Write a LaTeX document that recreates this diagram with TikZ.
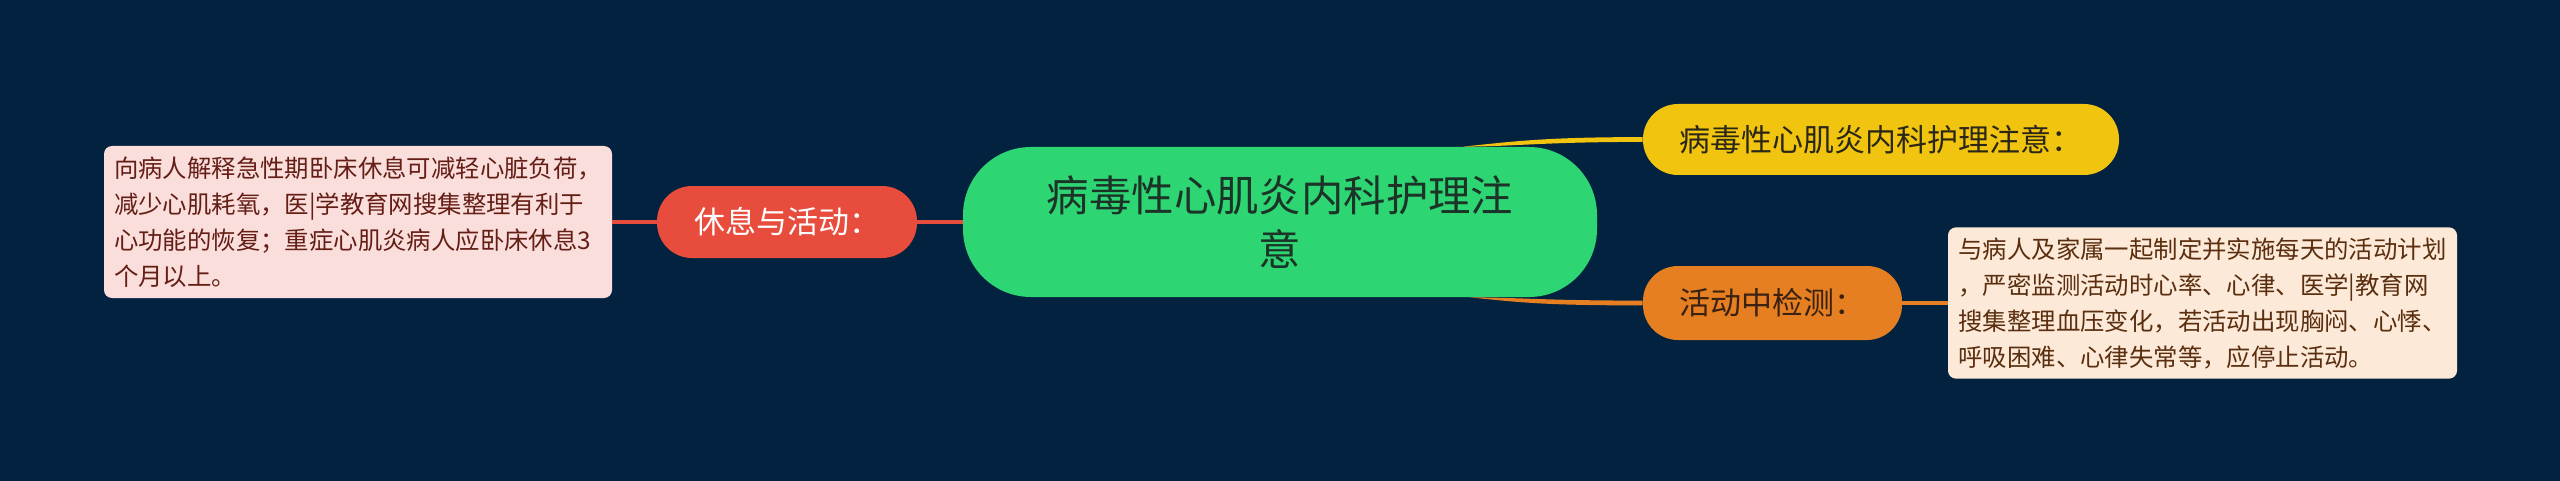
\documentclass[tikz,border=0pt]{standalone}
\usepackage{fontspec}
\setmainfont{Noto Sans CJK SC}
\usepackage{xcolor}
\usepackage{tikz}
\usetikzlibrary{positioning}
\definecolor{bgnavy}{HTML}{03223F}
\definecolor{topicgreen}{HTML}{2ED573}
\definecolor{topicink}{HTML}{1C3328}
\definecolor{restred}{HTML}{E74C3C}
\definecolor{caregold}{HTML}{F1C40F}
\definecolor{careink}{HTML}{2B2716}
\definecolor{watchorange}{HTML}{E67E22}
\definecolor{watchink}{HTML}{3A2210}
\definecolor{restpaper}{HTML}{FADEDB}
\definecolor{restink}{HTML}{641E16}
\definecolor{watchpaper}{HTML}{FCE9D8}
\definecolor{watchpaperink}{HTML}{5A2E0E}
\tikzstyle{topic} = [rectangle, rounded corners=34pt, minimum width=317pt, minimum height=75pt, align=center, fill=topicgreen, text=topicink, font=\fontsize{21.2pt}{27pt}\selectfont]
\tikzstyle{branch} = [rectangle, rounded corners=17.5pt, minimum height=36pt, text centered, font=\fontsize{15.5pt}{18pt}\selectfont]
\tikzstyle{leaf} = [rectangle, rounded corners=4pt, align=left, inner sep=5pt, font=\fontsize{12.2pt}{18pt}\selectfont]
\tikzstyle{link} = [line width=2pt]

\begin{document}
\begin{tikzpicture}[node distance=100pt]
    \fill [bgnavy] (0,0) rectangle (1280pt,-240.5pt);
    \useasboundingbox (0,0) rectangle (1280pt,-240.5pt);

    \node (topic) [topic] at (640pt,-111pt) {病毒性心肌炎内科护理注\\意};
    \node (rest) [branch, fill=restred, text=white, minimum width=130pt, left of=topic, xshift=-146.5pt] {休息与活动：};
    \node (restnote) [leaf, fill=restpaper, text=restink, minimum width=254pt, minimum height=76pt, left of=rest, xshift=-114.5pt] {向病人解释急性期卧床休息可减轻心脏负荷，\\减少心肌耗氧，医|学教育网搜集整理有利于\\心功能的恢复；重症心肌炎病人应卧床休息3\\个月以上。};
    \node (care) [branch, fill=caregold, text=careink, minimum width=238pt, minimum height=35.5pt, right of=topic, xshift=200.5pt, yshift=41.25pt] {病毒性心肌炎内科护理注意：};
    \node (watch) [branch, fill=watchorange, text=watchink, minimum width=129.5pt, minimum height=37pt, right of=topic, xshift=146.25pt, yshift=-40.5pt] {活动中检测：};
    \node (watchnote) [leaf, fill=watchpaper, text=watchpaperink, minimum width=254.5pt, minimum height=74pt, right of=watch, xshift=115pt] {与病人及家属一起制定并实施每天的活动计划\\，严密监测活动时心率、心律、医学|教育网\\搜集整理血压变化，若活动出现胸闷、心悸、\\呼吸困难、心律失常等，应停止活动。};

    \draw [link, restred] (restnote) -- (rest);
    \draw [link, restred] (rest) -- (topic);
    \fill [caregold] ([xshift=91.5pt]topic.north) .. controls +(25pt,2.5pt) and +(-50pt,0pt) .. ([yshift=1.2pt]care.west) -- ([yshift=-1.2pt]care.west) .. controls +(-50pt,0pt) and +(25pt,0pt) .. ([xshift=91.5pt]topic.north);
    \fill [watchorange] ([xshift=95pt]topic.south) .. controls +(25pt,-2.5pt) and +(-50pt,0pt) .. ([yshift=-1.2pt]watch.west) -- ([yshift=1.2pt]watch.west) .. controls +(-50pt,0pt) and +(25pt,0pt) .. ([xshift=95pt]topic.south);
    \draw [link, watchorange] (watch) -- (watchnote);
\end{tikzpicture}
\end{document}
